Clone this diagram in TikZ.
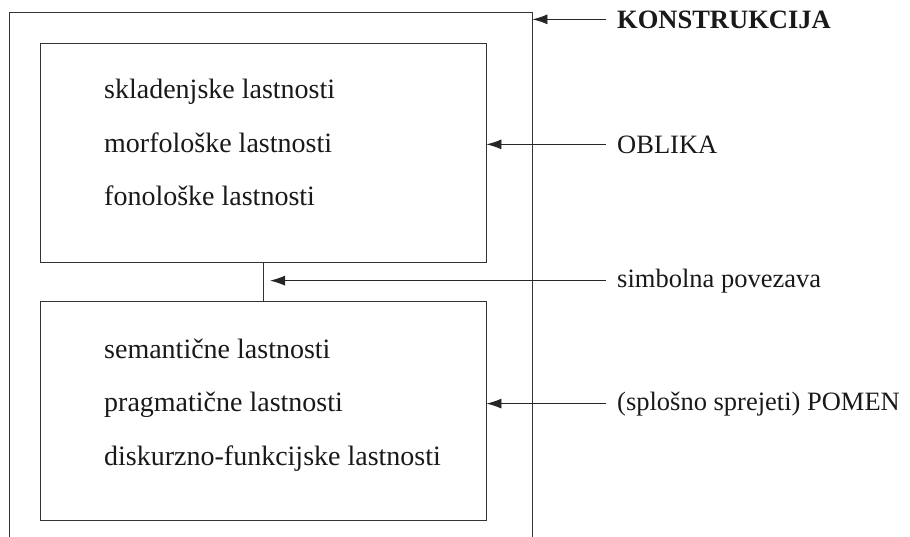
\documentclass[tikz,border=0pt]{standalone}
\usepackage{fontspec}
\setmainfont{Liberation Serif}
\usetikzlibrary{arrows.meta}

\tikzstyle{frame}=[draw=black!80,line width=0.9pt,rectangle,inner sep=0pt]
\tikzstyle{prop}=[anchor=base west,inner sep=0pt,text=black!90,font=\propsize]
\tikzstyle{tag}=[anchor=base west,inner sep=0pt,text=black!90,font=\tagsize]
\tikzstyle{pointer}=[draw=black!85,line width=0.9pt,-{Latex[length=15pt,width=10pt]},shorten <=11pt]
\newcommand{\propsize}{\fontsize{28}{33}\selectfont}
\newcommand{\tagsize}{\fontsize{26.5}{31}\selectfont}

\begin{document}
\begin{tikzpicture}[x=1pt,y=-1pt]
    \useasboundingbox (0,0) rectangle (910,536);
    \clip (0,0) rectangle (910,536);
    % First we draw the boxes
    \node[frame,minimum width=523pt,minimum height=560pt] (konstr) at (270.5,292) {};
    \node[frame,minimum width=446pt,minimum height=219pt] (oblika) at (263,152.5) {};
    \node[frame,minimum width=446pt,minimum height=219pt] (pomen) at (263,410.5) {};
    % Properties inside the boxes
    \foreach \y/\name/\txt in {98/sklad/skladenjske lastnosti, 152/morf/morfološke lastnosti, 205/fon/fonološke lastnosti, 358/sem/semantične lastnosti, 411/prag/pragmatične lastnosti, 465/disk/diskurzno-funkcijske lastnosti}
        \node[prop] (\name) at (104,\y) {\txt};
    % Labels on the right
    \node[tag] (konstrtag) at (617,28) {\textbf{KONSTRUKCIJA}};
    \node[tag] (obliktag) at (617,153) {OBLIKA};
    \node[tag] (simbtag) at (617,287) {simbolna povezava};
    \node[tag] (pomtag) at (617,410) {(splošno sprejeti) POMEN};
    % Connect labels with boxes
    \path[pointer] (konstrtag.west) -- (konstrtag.west -| konstr.east);
    \path[pointer] (obliktag.west) -- (obliktag.west -| oblika.east);
    \path[pointer] (pomtag.west) -- (pomtag.west -| pomen.east);
    \draw[black!80,line width=0.9pt] (oblika.south) -- (pomen.north);
    \path[pointer,shorten >=7pt] (simbtag.west) -- (simbtag.west -| oblika.south);
\end{tikzpicture}
\end{document}
